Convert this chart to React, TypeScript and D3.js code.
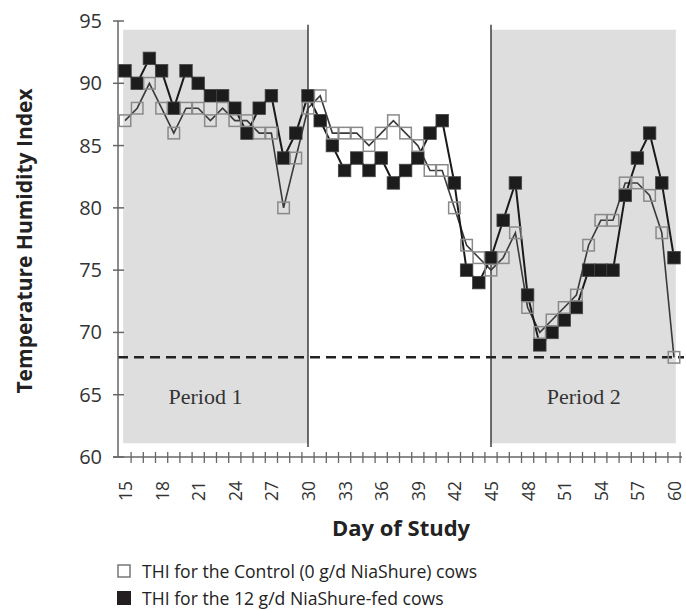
import React, { useEffect, useRef } from "react";
import * as d3 from "d3";

const days: number[] = d3.range(15, 61);
const controlTHI: number[] = [
  87, 88, 90, 88, 86, 88, 88, 87, 88, 87, 87, 86, 86, 80, 84, 88,
  89, 86, 86, 86, 85, 86, 87, 86, 85, 83, 83, 80, 77, 76, 75,
  76, 78, 72, 70, 71, 72, 73, 77, 79, 79, 82, 82, 81, 78, 68,
];
const niaTHI: number[] = [
  91, 90, 92, 91, 88, 91, 90, 89, 89, 88, 86, 88, 89, 84, 86, 89,
  87, 85, 83, 84, 83, 84, 82, 83, 84, 86, 87, 82, 75, 74, 76,
  79, 82, 73, 69, 70, 71, 72, 75, 75, 75, 81, 84, 86, 82, 76,
];
const yTicks: number[] = [60, 65, 70, 75, 80, 85, 90, 95];
const xTickLabels: number[] = [15, 18, 21, 24, 27, 30, 33, 36, 39, 42, 45, 48, 51, 54, 57, 60];
const periods = [
  { label: "Period 1", start: 14.85, end: 30, labelDay: 21.6 },
  { label: "Period 2", start: 45, end: 60.15, labelDay: 52.6 },
];
const thresholdTHI = 68;
const legendItems = [
  { label: "THI for the Control (0 g/d NiaShure) cows", filled: false },
  { label: "THI for the 12 g/d NiaShure-fed cows", filled: true },
];

export default function App() {
  const ref = useRef<SVGSVGElement | null>(null);

  useEffect(() => {
    const svg = d3.select(ref.current);
    svg.selectAll("*").remove();

    const x = d3.scaleLinear().domain([15, 60]).range([125, 674]);
    const y = d3.scaleLinear().domain([60, 95]).range([457, 21]);
    const font = "'Open Sans', sans-serif";

    // shaded periods
    periods.forEach((p) => {
      svg.append("rect")
        .attr("x", x(p.start)).attr("y", y(94.3))
        .attr("width", x(p.end) - x(p.start))
        .attr("height", y(61.1) - y(94.3))
        .attr("fill", "#dedede");
      svg.append("text")
        .attr("x", x(p.labelDay))
        .attr("y", 404)
        .attr("text-anchor", "middle")
        .attr("font-family", "'Liberation Serif', 'Times New Roman', serif")
        .attr("font-size", 22)
        .attr("fill", "#333")
        .text(p.label);
    });

    // vertical separators
    [30, 45].forEach((d) => {
      svg.append("line")
        .attr("x1", x(d)).attr("x2", x(d))
        .attr("y1", y(94.7)).attr("y2", y(60.8))
        .attr("stroke", "#222").attr("stroke-width", 1.3);
    });

    // threshold dashed
    svg.append("line")
      .attr("x1", 118).attr("x2", 684)
      .attr("y1", y(thresholdTHI)).attr("y2", y(thresholdTHI))
      .attr("stroke", "#222").attr("stroke-width", 2.5)
      .attr("stroke-dasharray", "10,6");

    // axes
    const axisColor = "#666";
    svg.append("line")
      .attr("x1", 118).attr("x2", 118).attr("y1", y(95)).attr("y2", y(60))
      .attr("stroke", axisColor).attr("stroke-width", 1.5);
    yTicks.forEach((t) => {
      svg.append("line")
        .attr("x1", 113).attr("x2", 124).attr("y1", y(t)).attr("y2", y(t))
        .attr("stroke", axisColor).attr("stroke-width", 1.5);
      svg.append("text")
        .attr("x", 102).attr("y", y(t) + 7)
        .attr("text-anchor", "end")
        .attr("font-family", font).attr("font-size", 20)
        .attr("fill", "#333")
        .text(String(t));
    });
    svg.append("line")
      .attr("x1", 113).attr("x2", 682).attr("y1", y(60)).attr("y2", y(60))
      .attr("stroke", axisColor).attr("stroke-width", 1.5);
    d3.range(15.5, 61, 1).forEach((t) => {
      svg.append("line")
        .attr("x1", x(t)).attr("x2", x(t))
        .attr("y1", y(60) - 5).attr("y2", y(60) + 6)
        .attr("stroke", axisColor).attr("stroke-width", 1.3);
    });
    xTickLabels.forEach((t) => {
      svg.append("text")
        .attr("transform", `translate(${x(t) + 7},491) rotate(-90)`)
        .attr("text-anchor", "middle")
        .attr("font-family", font).attr("font-size", 17.5)
        .attr("fill", "#333")
        .text(String(t));
    });

    // axis titles
    svg.append("text")
      .attr("transform", `translate(32,241) rotate(-90)`)
      .attr("text-anchor", "middle")
      .attr("font-family", font).attr("font-size", 21)
      .attr("font-weight", "bold").attr("fill", "#222")
      .text("Temperature Humidity Index");
    svg.append("text")
      .attr("x", 401).attr("y", 536)
      .attr("text-anchor", "middle")
      .attr("font-family", font).attr("font-size", 22)
      .attr("font-weight", "bold").attr("fill", "#222")
      .text("Day of Study");

    // lines
    const line = d3.line<number>()
      .x((_, i) => x(days[i]))
      .y((v) => y(v));
    svg.append("path").attr("d", line(controlTHI))
      .attr("fill", "none").attr("stroke", "#3a3a3a").attr("stroke-width", 1.6);
    svg.append("path").attr("d", line(niaTHI))
      .attr("fill", "none").attr("stroke", "#1a1a1a").attr("stroke-width", 2);

    const s = 12.5;
    svg.append("g").selectAll("rect").data(niaTHI).join("rect")
      .attr("x", (_, i) => x(days[i]) - s / 2)
      .attr("y", (v) => y(v) - s / 2)
      .attr("width", s).attr("height", s)
      .attr("fill", "#1c1c1c").attr("stroke", "#444").attr("stroke-width", 0.8);
    svg.append("g").selectAll("rect").data(controlTHI).join("rect")
      .attr("x", (_, i) => x(days[i]) - s / 2 + 0.5)
      .attr("y", (v) => y(v) - s / 2 + 0.5)
      .attr("width", s - 1).attr("height", s - 1)
      .attr("fill", "none").attr("stroke", "#8a8a8a").attr("stroke-width", 1.5);

    // legend
    legendItems.forEach((it, i) => {
      const ly = 564 + i * 27;
      svg.append("rect")
        .attr("x", it.filled ? 117 : 118).attr("y", it.filled ? ly : ly + 1)
        .attr("width", it.filled ? 14 : 12).attr("height", it.filled ? 14 : 12)
        .attr("fill", it.filled ? "#231f20" : "#fff")
        .attr("stroke", it.filled ? "none" : "#777").attr("stroke-width", 1.5);
      svg.append("text")
        .attr("x", 142).attr("y", ly + 14)
        .attr("font-family", font).attr("font-size", 17.6)
        .attr("fill", "#222")
        .text(it.label);
    });
  }, []);

  return (
    <svg
      ref={ref}
      width={686}
      height={610}
      style={{ position: "absolute", left: 0, top: 0, background: "#fff" }}
    />
  );
}
